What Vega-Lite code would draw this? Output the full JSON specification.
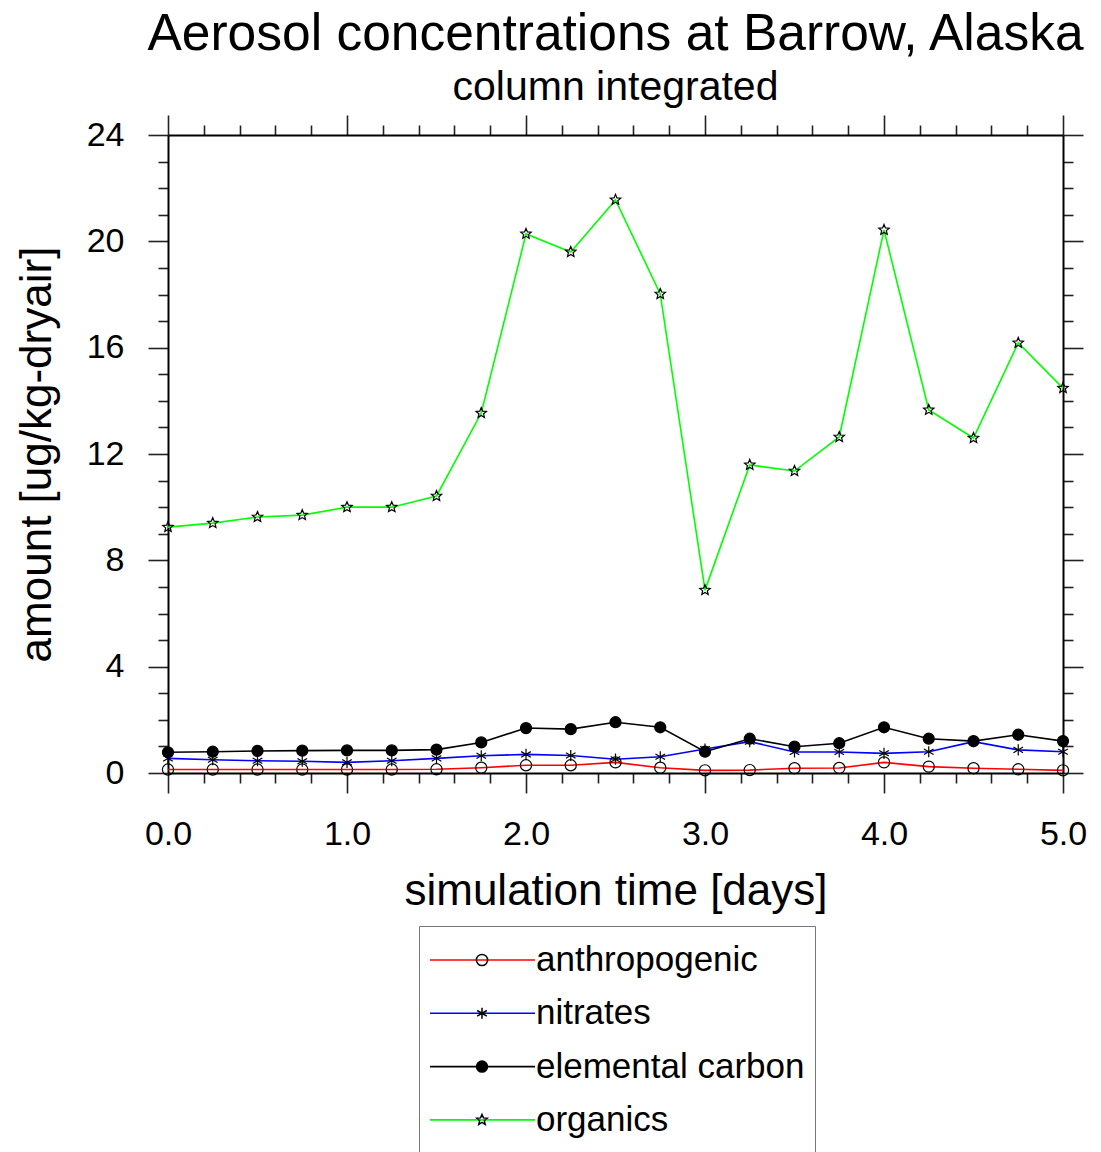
{
  "$schema": "https://vega.github.io/schema/vega-lite/v6.json",
  "width": 895,
  "height": 638,
  "autosize": {"type": "none"},
  "padding": {"left": 168, "top": 135, "right": 38, "bottom": 379},
  "background": "white",
  "title": {
    "text": "Aerosol concentrations at Barrow, Alaska",
    "subtitle": "column integrated",
    "anchor": "middle",
    "font": "Liberation Sans",
    "subtitleFont": "Liberation Sans",
    "fontSize": 51.5,
    "subtitleFontSize": 41,
    "fontWeight": "normal",
    "color": "black",
    "subtitleColor": "black",
    "offset": 6,
    "subtitlePadding": 8
  },
  "data": {
    "values": [
      {"t": 0, "series": "anthropogenic", "marker": "circle", "value": 0.13},
      {"t": 0.25, "series": "anthropogenic", "marker": "circle", "value": 0.13},
      {"t": 0.5, "series": "anthropogenic", "marker": "circle", "value": 0.13},
      {"t": 0.75, "series": "anthropogenic", "marker": "circle", "value": 0.13},
      {"t": 1, "series": "anthropogenic", "marker": "circle", "value": 0.13},
      {"t": 1.25, "series": "anthropogenic", "marker": "circle", "value": 0.13},
      {"t": 1.5, "series": "anthropogenic", "marker": "circle", "value": 0.14},
      {"t": 1.75, "series": "anthropogenic", "marker": "circle", "value": 0.2},
      {"t": 2, "series": "anthropogenic", "marker": "circle", "value": 0.29},
      {"t": 2.25, "series": "anthropogenic", "marker": "circle", "value": 0.29},
      {"t": 2.5, "series": "anthropogenic", "marker": "circle", "value": 0.4},
      {"t": 2.75, "series": "anthropogenic", "marker": "circle", "value": 0.2},
      {"t": 3, "series": "anthropogenic", "marker": "circle", "value": 0.1},
      {"t": 3.25, "series": "anthropogenic", "marker": "circle", "value": 0.11},
      {"t": 3.5, "series": "anthropogenic", "marker": "circle", "value": 0.18},
      {"t": 3.75, "series": "anthropogenic", "marker": "circle", "value": 0.19},
      {"t": 4, "series": "anthropogenic", "marker": "circle", "value": 0.4},
      {"t": 4.25, "series": "anthropogenic", "marker": "circle", "value": 0.24},
      {"t": 4.5, "series": "anthropogenic", "marker": "circle", "value": 0.18},
      {"t": 4.75, "series": "anthropogenic", "marker": "circle", "value": 0.14},
      {"t": 5, "series": "anthropogenic", "marker": "circle", "value": 0.1},
      {"t": 0, "series": "nitrates", "marker": "asterisk", "value": 0.55},
      {"t": 0.25, "series": "nitrates", "marker": "asterisk", "value": 0.5},
      {"t": 0.5, "series": "nitrates", "marker": "asterisk", "value": 0.46},
      {"t": 0.75, "series": "nitrates", "marker": "asterisk", "value": 0.44},
      {"t": 1, "series": "nitrates", "marker": "asterisk", "value": 0.4},
      {"t": 1.25, "series": "nitrates", "marker": "asterisk", "value": 0.46},
      {"t": 1.5, "series": "nitrates", "marker": "asterisk", "value": 0.55},
      {"t": 1.75, "series": "nitrates", "marker": "asterisk", "value": 0.65},
      {"t": 2, "series": "nitrates", "marker": "asterisk", "value": 0.7},
      {"t": 2.25, "series": "nitrates", "marker": "asterisk", "value": 0.66},
      {"t": 2.5, "series": "nitrates", "marker": "asterisk", "value": 0.52},
      {"t": 2.75, "series": "nitrates", "marker": "asterisk", "value": 0.61},
      {"t": 3, "series": "nitrates", "marker": "asterisk", "value": 0.9},
      {"t": 3.25, "series": "nitrates", "marker": "asterisk", "value": 1.18},
      {"t": 3.5, "series": "nitrates", "marker": "asterisk", "value": 0.79},
      {"t": 3.75, "series": "nitrates", "marker": "asterisk", "value": 0.79},
      {"t": 4, "series": "nitrates", "marker": "asterisk", "value": 0.74},
      {"t": 4.25, "series": "nitrates", "marker": "asterisk", "value": 0.8},
      {"t": 4.5, "series": "nitrates", "marker": "asterisk", "value": 1.18},
      {"t": 4.75, "series": "nitrates", "marker": "asterisk", "value": 0.87},
      {"t": 5, "series": "nitrates", "marker": "asterisk", "value": 0.8},
      {"t": 0, "series": "elemental carbon", "marker": "dot", "value": 0.78},
      {"t": 0.25, "series": "elemental carbon", "marker": "dot", "value": 0.8},
      {"t": 0.5, "series": "elemental carbon", "marker": "dot", "value": 0.83},
      {"t": 0.75, "series": "elemental carbon", "marker": "dot", "value": 0.84},
      {"t": 1, "series": "elemental carbon", "marker": "dot", "value": 0.85},
      {"t": 1.25, "series": "elemental carbon", "marker": "dot", "value": 0.85},
      {"t": 1.5, "series": "elemental carbon", "marker": "dot", "value": 0.88},
      {"t": 1.75, "series": "elemental carbon", "marker": "dot", "value": 1.15},
      {"t": 2, "series": "elemental carbon", "marker": "dot", "value": 1.69},
      {"t": 2.25, "series": "elemental carbon", "marker": "dot", "value": 1.65},
      {"t": 2.5, "series": "elemental carbon", "marker": "dot", "value": 1.91},
      {"t": 2.75, "series": "elemental carbon", "marker": "dot", "value": 1.72},
      {"t": 3, "series": "elemental carbon", "marker": "dot", "value": 0.8},
      {"t": 3.25, "series": "elemental carbon", "marker": "dot", "value": 1.29},
      {"t": 3.5, "series": "elemental carbon", "marker": "dot", "value": 0.99},
      {"t": 3.75, "series": "elemental carbon", "marker": "dot", "value": 1.12},
      {"t": 4, "series": "elemental carbon", "marker": "dot", "value": 1.72},
      {"t": 4.25, "series": "elemental carbon", "marker": "dot", "value": 1.29},
      {"t": 4.5, "series": "elemental carbon", "marker": "dot", "value": 1.2},
      {"t": 4.75, "series": "elemental carbon", "marker": "dot", "value": 1.44},
      {"t": 5, "series": "elemental carbon", "marker": "dot", "value": 1.2},
      {"t": 0, "series": "organics", "marker": "star", "value": 9.25},
      {"t": 0.25, "series": "organics", "marker": "star", "value": 9.4},
      {"t": 0.5, "series": "organics", "marker": "star", "value": 9.63},
      {"t": 0.75, "series": "organics", "marker": "star", "value": 9.7},
      {"t": 1, "series": "organics", "marker": "star", "value": 10.0},
      {"t": 1.25, "series": "organics", "marker": "star", "value": 10.0},
      {"t": 1.5, "series": "organics", "marker": "star", "value": 10.42},
      {"t": 1.75, "series": "organics", "marker": "star", "value": 13.54},
      {"t": 2, "series": "organics", "marker": "star", "value": 20.28},
      {"t": 2.25, "series": "organics", "marker": "star", "value": 19.6},
      {"t": 2.5, "series": "organics", "marker": "star", "value": 21.56},
      {"t": 2.75, "series": "organics", "marker": "star", "value": 18.02},
      {"t": 3, "series": "organics", "marker": "star", "value": 6.88},
      {"t": 3.25, "series": "organics", "marker": "star", "value": 11.59},
      {"t": 3.5, "series": "organics", "marker": "star", "value": 11.36},
      {"t": 3.75, "series": "organics", "marker": "star", "value": 12.64},
      {"t": 4, "series": "organics", "marker": "star", "value": 20.43},
      {"t": 4.25, "series": "organics", "marker": "star", "value": 13.66},
      {"t": 4.5, "series": "organics", "marker": "star", "value": 12.6},
      {"t": 4.75, "series": "organics", "marker": "star", "value": 16.18},
      {"t": 5, "series": "organics", "marker": "star", "value": 14.48}
    ]
  },
  "resolve": {"axis": {"x": "independent", "y": "independent"}},
  "layer": [
    {
      "mark": {"type": "line", "strokeWidth": 1.6, "clip": false},
      "encoding": {
        "x": {
          "field": "t", "type": "quantitative",
          "scale": {"domain": [0, 5], "nice": false, "zero": false},
          "axis": {
            "orient": "bottom",
            "values": [0,0.2,0.4,0.6,0.8,1,1.2,1.4,1.6,1.8,2,2.2,2.4,2.6,2.8,3,3.2,3.4,3.6,3.8,4,4.2,4.4,4.6,4.8,5],
            "labelExpr": "datum.value % 1 === 0 ? format(datum.value, '.1f') : ''",
            "tickSize": {"condition": {"test": "datum.value % 1 === 0", "value": 20}, "value": 10},
            "labelPadding": 24,
            "labelOverlap": false,
            "labelFlush": false,
            "title": "simulation time [days]",
            "titleFontSize": 44,
            "titlePadding": 18
          }
        },
        "y": {
          "field": "value", "type": "quantitative",
          "scale": {"domain": [0, 24], "nice": false},
          "axis": {
            "orient": "left",
            "values": [0,1,2,3,4,5,6,7,8,9,10,11,12,13,14,15,16,17,18,19,20,21,22,23,24],
            "labelExpr": "datum.value % 4 === 0 ? format(datum.value, 'd') : ''",
            "tickSize": {"condition": {"test": "datum.value % 4 === 0", "value": 20}, "value": 10},
            "labelPadding": 24,
            "labelOverlap": false,
            "labelFlush": false,
            "title": "amount [ug/kg-dryair]",
            "titleFontSize": 44,
            "titlePadding": 27
          }
        },
        "color": {
          "field": "series", "type": "nominal",
          "scale": {
            "domain": ["anthropogenic", "nitrates", "elemental carbon", "organics"],
            "range": ["#ff0000", "#0000ff", "#000000", "#00ff00"]
          },
          "legend": {
            "title": null,
            "orient": "none",
            "direction": "vertical",
            "legendX": 251,
            "legendY": 791,
            "padding": 10,
            "symbolType": "stroke",
            "symbolSize": 11025,
            "symbolStrokeWidth": 1.6,
            "clipHeight": 48,
            "rowPadding": 5.3,
            "labelOffset": 0,
            "labelFont": "Liberation Sans",
            "labelFontSize": 35,
            "labelColor": "black",
            "labelLimit": 400,
            "strokeColor": "#777777"
          }
        }
      }
    },
    {
      "mark": {"type": "point", "stroke": "black", "strokeWidth": 1.2, "opacity": 1, "clip": false},
      "encoding": {
        "x": {
          "field": "t", "type": "quantitative",
          "axis": {
            "orient": "top",
            "values": [0,0.2,0.4,0.6,0.8,1,1.2,1.4,1.6,1.8,2,2.2,2.4,2.6,2.8,3,3.2,3.4,3.6,3.8,4,4.2,4.4,4.6,4.8,5],
            "labels": false,
            "tickSize": {"condition": {"test": "datum.value % 1 === 0", "value": 20}, "value": 10},
            "title": null
          }
        },
        "y": {
          "field": "value", "type": "quantitative",
          "axis": {
            "orient": "right",
            "values": [0,1,2,3,4,5,6,7,8,9,10,11,12,13,14,15,16,17,18,19,20,21,22,23,24],
            "labels": false,
            "tickSize": {"condition": {"test": "datum.value % 4 === 0", "value": 20}, "value": 10},
            "title": null
          }
        },
        "shape": {
          "field": "marker", "type": "nominal",
          "scale": {
            "domain": ["circle", "asterisk", "dot", "star"],
            "range": ["circle", "M0,-1L0,1M-0.866,-0.5L0.866,0.5M-0.866,0.5L0.866,-0.5", "circle", "M0,-1L0.265,-0.364L0.951,-0.309L0.428,0.139L0.588,0.809L0,0.45L-0.588,0.809L-0.428,0.139L-0.951,-0.309L-0.265,-0.364Z"]
          },
          "legend": {
            "title": null,
            "orient": "none",
            "direction": "vertical",
            "legendX": 251,
            "legendY": 791,
            "padding": 10,
            "clipHeight": 48,
            "rowPadding": 5.3,
            "symbolOffset": 36,
            "labelFontSize": 34,
            "labelExpr": "''"
          }
        },
        "fill": {
          "field": "marker", "type": "nominal",
          "scale": {
            "domain": ["circle", "asterisk", "dot", "star"],
            "range": ["transparent", "transparent", "black", "transparent"]
          },
          "legend": {
            "title": null,
            "orient": "none",
            "direction": "vertical",
            "legendX": 251,
            "legendY": 791,
            "padding": 10,
            "clipHeight": 48,
            "rowPadding": 5.3,
            "symbolOffset": 36,
            "labelFontSize": 34,
            "labelExpr": "''"
          }
        },
        "size": {
          "field": "marker", "type": "nominal",
          "scale": {
            "domain": ["circle", "asterisk", "dot", "star"],
            "range": [125, 120, 175, 140]
          },
          "legend": {
            "title": null,
            "orient": "none",
            "direction": "vertical",
            "legendX": 251,
            "legendY": 791,
            "padding": 10,
            "clipHeight": 48,
            "rowPadding": 5.3,
            "symbolOffset": 36,
            "labelFontSize": 34,
            "labelExpr": "''"
          }
        }
      }
    }
  ],
  "config": {
    "view": {"stroke": null},
    "font": "Liberation Sans",
    "axis": {
      "grid": false,
      "domainColor": "black",
      "domainWidth": 2,
      "tickColor": "#222222",
      "tickWidth": 1.6,
      "labelFont": "Liberation Sans",
      "labelFontSize": 34,
      "labelColor": "black",
      "titleFont": "Liberation Sans",
      "titleFontSize": 40,
      "titleFontWeight": "normal",
      "titleColor": "black"
    }
  }
}
